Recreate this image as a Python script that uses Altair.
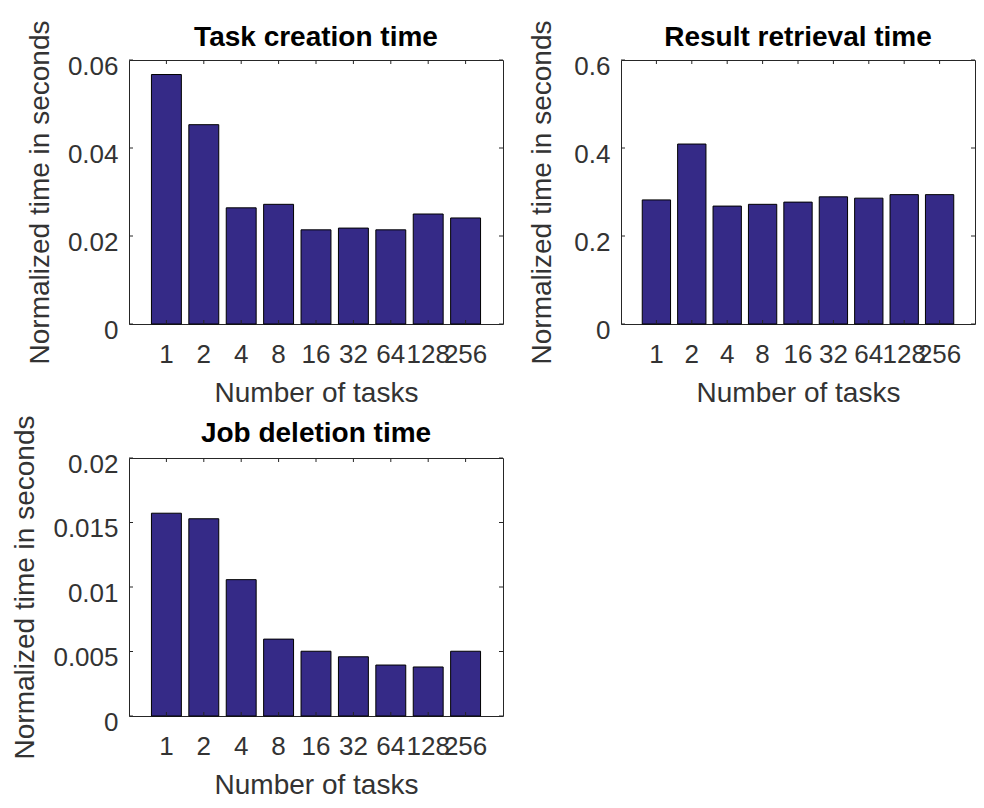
import altair as alt
import pandas as pd

# ---- data ----
tasks = ["1", "2", "4", "8", "16", "32", "64", "128", "256"]
creation = [0.0567, 0.0453, 0.0264, 0.0272, 0.0214, 0.0218, 0.0214, 0.0250, 0.0241]
retrieval = [0.282, 0.409, 0.268, 0.272, 0.277, 0.289, 0.286, 0.294, 0.294]
deletion = [0.01572, 0.01529, 0.01057, 0.00596, 0.00502, 0.00459, 0.00395, 0.00380, 0.00502]

titles = ["Task creation time", "Result retrieval time", "Job deletion time"]
y_max = [0.06, 0.6, 0.02]
y_ticks = [[0, 0.02, 0.04, 0.06], [0, 0.2, 0.4, 0.6], [0, 0.005, 0.01, 0.015, 0.02]]
x_title = "Number of tasks"
y_title = "Normalized time in seconds"

FONT = "Liberation Sans"
AXIS_COLOR = "#262626"
TEXT_COLOR = "#333333"
BAR_COLOR = "#352a87"
TICK_LEN = 4


def panel(values, title, ymax, ticks, w, h, ytitle_x, title_gap):
    bars_df = pd.DataFrame({"tasks": tasks, "value": values})
    ticks_df = pd.DataFrame({"value": ticks})
    title_df = pd.DataFrame({"title": [title]})

    x_enc = alt.X(
        "tasks:N",
        sort=tasks,
        scale=alt.Scale(paddingInner=0.2, paddingOuter=0.6),
        axis=alt.Axis(
            title=x_title,
            labelAngle=0,
            ticks=False,
            tickSize=0,
            domain=False,
            labelPadding=38,
            labelBaseline="alphabetic",
            labelFont=FONT,
            labelFontSize=26,
            labelColor=TEXT_COLOR,
            labelOverlap=False,
            labelFlush=False,
            titleFont=FONT,
            titleFontSize=28,
            titleFontWeight="normal",
            titleColor=TEXT_COLOR,
            titleBaseline="alphabetic",
            titleAlign="center",
            titleX=w / 2,
            titleY=77,
        ),
    )
    y_scale = alt.Scale(domain=[0, ymax], nice=False, zero=True)
    y_axis = alt.Axis(
        title=y_title,
        values=ticks,
        format="~g",
        ticks=False,
        tickSize=0,
        domain=False,
        grid=False,
        labelPadding=11,
        labelBaseline="alphabetic",
        labelOffset=14,
        labelFont=FONT,
        labelFontSize=26,
        labelColor=TEXT_COLOR,
        labelOverlap=False,
        labelFlush=False,
        titleFont=FONT,
        titleFontSize=28,
        titleFontWeight="normal",
        titleColor=TEXT_COLOR,
        titleAngle=270,
        titleBaseline="alphabetic",
        titleAlign="center",
        titleX=ytitle_x,
        titleY=h / 2,
    )
    y_enc = alt.Y("value:Q", scale=y_scale, axis=y_axis)

    bars = alt.Chart(bars_df).mark_bar(
        color=BAR_COLOR, stroke="black", strokeWidth=1
    ).encode(x=x_enc, y=y_enc)

    xt_bottom = alt.Chart(bars_df).mark_rule(color=AXIS_COLOR, strokeWidth=1).encode(
        x=x_enc, y=alt.value(h), y2=alt.value(h - TICK_LEN)
    )
    xt_top = alt.Chart(bars_df).mark_rule(color=AXIS_COLOR, strokeWidth=1).encode(
        x=x_enc, y=alt.value(0), y2=alt.value(TICK_LEN)
    )
    yt_left = alt.Chart(ticks_df).mark_rule(color=AXIS_COLOR, strokeWidth=1).encode(
        y=y_enc, x=alt.value(0), x2=alt.value(TICK_LEN)
    )
    yt_right = alt.Chart(ticks_df).mark_rule(color=AXIS_COLOR, strokeWidth=1).encode(
        y=y_enc, x=alt.value(w), x2=alt.value(w - TICK_LEN)
    )
    # panel title, drawn as text just above the plot box (MATLAB-style title)
    head = alt.Chart(title_df).mark_text(
        font=FONT,
        fontSize=28,
        fontWeight="bold",
        color="black",
        align="center",
        baseline="alphabetic",
    ).encode(text="title:N", x=alt.value(w / 2), y=alt.value(-title_gap))

    return alt.layer(bars, xt_bottom, xt_top, yt_left, yt_right, head).properties(
        width=w,
        height=h,
    )


p1 = panel(creation, titles[0], y_max[0], y_ticks[0], 374, 264, -81, 14)
p2 = panel(retrieval, titles[1], y_max[1], y_ticks[1], 354, 264, -71, 14)
p3 = panel(deletion, titles[2], y_max[2], y_ticks[2], 374, 258, -96, 16)

chart = alt.concat(
    p1, p2, p3,
    columns=2,
    bounds="flush",
    spacing={"row": 134, "column": 118},
).properties(
    padding={"left": 2, "top": 11, "right": 0, "bottom": 0},
    background="white",
).configure_view(
    stroke=AXIS_COLOR, strokeWidth=1, fill="white"
)

chart.save("out.html", embed_options={"renderer": "svg", "actions": False})
